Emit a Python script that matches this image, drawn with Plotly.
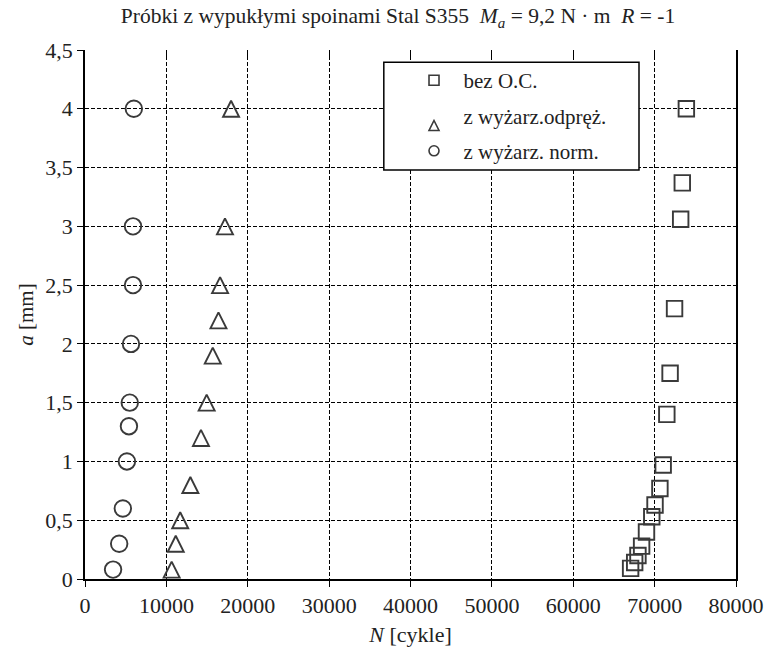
import plotly.graph_objects as go

# ---------------- data ----------------
series_names = ["bez O.C.", "z wyżarz.odpręż.", "z wyżarz. norm."]

square_N = [73900, 73400, 73200, 72450, 71900, 71500, 71050, 70650, 70050, 69650, 69000, 68400, 67950, 67550, 67050]
square_a = [4.0, 3.37, 3.06, 2.3, 1.75, 1.4, 0.97, 0.77, 0.63, 0.53, 0.40, 0.28, 0.20, 0.14, 0.09]

triangle_N = [17950, 17200, 16600, 16400, 15700, 14950, 14250, 12950, 11700, 11150, 10650]
triangle_a = [4.0, 3.0, 2.5, 2.2, 1.9, 1.5, 1.2, 0.8, 0.5, 0.3, 0.08]

circle_N = [6000, 5900, 5900, 5650, 5500, 5400, 5150, 4650, 4200, 3450]
circle_a = [4.0, 3.0, 2.5, 2.0, 1.5, 1.3, 1.0, 0.6, 0.3, 0.08]

x_ticks = [0, 10000, 20000, 30000, 40000, 50000, 60000, 70000, 80000]
y_tick_vals = [0, 0.5, 1, 1.5, 2, 2.5, 3, 3.5, 4, 4.5]
y_tick_text = ["0", "0,5", "1", "1,5", "2", "2,5", "3", "3,5", "4", "4,5"]

title_text = ("Próbki z wypukłymi spoinami Stal S355\u00a0\u00a0<i>M</i><sub><i>a</i></sub> = 9,2 N\u00a0·\u00a0m"
              "\u00a0\u00a0<i>R</i> = -1")
x_title = "<i>N</i> [cykle]"
y_title = "<i>a</i> [mm]"

# ---------------- style ----------------
FONT = "Liberation Serif"
TC = "#222222"
MC = "#3a3a3a"

fig = go.Figure()

# plotted series (no legend)
fig.add_trace(go.Scatter(x=square_N, y=square_a, mode="markers", showlegend=False,
                         marker=dict(symbol="square-open", size=15.5, color=MC, line=dict(width=1.9, color=MC))))
fig.add_trace(go.Scatter(x=triangle_N, y=triangle_a, mode="markers", showlegend=False,
                         marker=dict(symbol="arrow-down-open", angle=180, standoff=8, size=16,
                                     color=MC, line=dict(width=1.9, color=MC))))
fig.add_trace(go.Scatter(x=circle_N, y=circle_a, mode="markers", showlegend=False,
                         marker=dict(symbol="circle-open", size=16.5, color=MC, line=dict(width=1.9, color=MC))))

# legend entries (small markers)
leg_syms = [dict(symbol="square-open", size=10),
            dict(symbol="arrow-down-open", angle=180, standoff=5, size=10),
            dict(symbol="circle-open", size=10)]
for i, (name, sym) in enumerate(zip(series_names, leg_syms)):
    fig.add_trace(go.Scatter(x=[None], y=[None], mode="markers", name=name, legendgroup=f"g{i}",
                             marker=dict(color=MC, line=dict(width=1.6, color=MC), **sym)))

# top inward ticks
fig.add_trace(go.Scatter(x=[None], y=[None], xaxis="x2", showlegend=False))

tickfont = dict(family=FONT, size=22, color=TC)

fig.update_layout(
    width=764, height=650,
    margin=dict(l=85, r=28, t=50, b=71, autoexpand=False),
    paper_bgcolor="white", plot_bgcolor="white",
    font=dict(family=FONT, size=20, color=TC),
    title=dict(text=title_text, x=0.521, xanchor="center", y=0.976, yanchor="middle",
               font=dict(family=FONT, size=21.5, color=TC)),
    xaxis=dict(range=[0, 80000], tickvals=x_ticks, tickformat="d", automargin=False,
               showgrid=True, gridcolor="black", gridwidth=1, griddash="4px,2px",
               showline=True, linecolor="black", linewidth=1.5, mirror=False,
               ticks="outside", ticklen=6, tickcolor="black", tickwidth=1.2,
               zeroline=False, tickfont=tickfont,
               title=dict(text=x_title, standoff=9, font=dict(family=FONT, size=22, color=TC))),
    xaxis2=dict(range=[0, 80000], overlaying="x", side="top", anchor="y", matches="x",
                tickvals=x_ticks, ticks="inside", ticklen=8, tickcolor="black", tickwidth=1.2,
                showticklabels=False, showgrid=False, showline=False, zeroline=False),
    yaxis=dict(range=[0, 4.5], tickvals=y_tick_vals, ticktext=y_tick_text, automargin=False,
               showgrid=True, gridcolor="black", gridwidth=1, griddash="4px,2px",
               showline=True, linecolor="black", linewidth=1.5, mirror=True,
               ticks="outside", ticklen=6, tickcolor="black", tickwidth=1.2,
               zeroline=False, tickfont=tickfont,
               title=dict(text=y_title, standoff=6, font=dict(family=FONT, size=21, color=TC))),
    legend=dict(x=0.4908, y=0.981, xanchor="left", yanchor="top",
                bgcolor="rgba(0,0,0,0)", borderwidth=0,
                font=dict(family=FONT, size=21, color=TC),
                tracegroupgap=5, itemwidth=49),
    shapes=[dict(type="rect", xref="paper", yref="paper", x0=0.459, x1=0.851, y0=0.773, y1=0.977,
                 fillcolor="white", line=dict(color="black", width=1.5), layer="above")],
)

fig.write_html("out.html", config={"displayModeBar": False},
               post_script="document.body.style.margin='0';")
